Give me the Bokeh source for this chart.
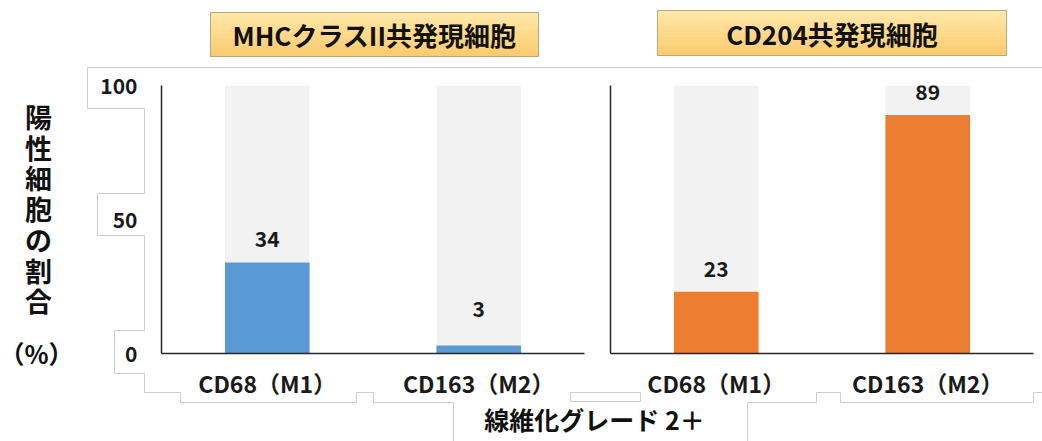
from bokeh.plotting import figure
from bokeh.models import Range1d, FixedTicker, ColumnDataSource
from bokeh.core.properties import value
from bokeh.embed import file_html
from bokeh.resources import INLINE

# ---- data -------------------------------------------------------------
groups = ["MHCクラスII共発現細胞", "CD204共発現細胞"]
categories = ["CD68（M1）", "CD163（M2）"]
mhc_class2_pct = [34, 3]     # % positive, MHC class II co-expressing cells
cd204_pct = [23, 89]         # % positive, CD204 co-expressing cells
y_ticks = [0, 50, 100]
y_title = "陽性細胞の割合"
y_unit = "（%）"
x_title = "線維化グレード 2＋"
group_colors = ["#5B9BD5", "#ED7D31"]

# ---- layout -----------------------------------------------------------
FONT = "Noto Sans CJK JP"
INK = "#111111"
W, H = 1042, 441
FL, FR, FT, FB = 161, 1033, 85, 353      # plot frame edges (px)
Y_MAX = y_ticks[-1]
SLOT_PX = 211.5                          # width of one category slot
GAP = 26 / SLOT_PX                       # gap between the two panels (slots)
BAR_W = 0.4
n_cat = len(categories)
X_END = len(groups) * n_cat + GAP


def dx(px):
    return (px - FL) * X_END / (FR - FL)


def dy(py):
    return (FB - py) * Y_MAX / (FB - FT)


panel_start = [g * (n_cat + GAP) for g in range(len(groups))]
series = [mhc_class2_pct, cd204_pct]

xs, tops, colors, names = [], [], [], []
for g, vals in enumerate(series):
    for i, v in enumerate(vals):
        xs.append(panel_start[g] + i + 0.5)
        tops.append(v)
        colors.append(group_colors[g])
        names.append(categories[i])

LABEL_FLOOR, LABEL_GAP = 8, 8.7
src = ColumnDataSource(dict(
    x=xs, top=tops, color=colors, full=[Y_MAX] * len(xs),
    label=[str(v) for v in tops],
    label_y=[max(v, LABEL_FLOOR) + LABEL_GAP for v in tops],
))

p = figure(width=W, height=H, output_backend="svg", toolbar_location=None,
           x_range=Range1d(0, X_END), y_range=Range1d(0, Y_MAX),
           min_border_left=FL, min_border_right=W - FR,
           min_border_top=FT, min_border_bottom=H - FB)
p.background_fill_color = "white"
p.border_fill_color = "white"
p.outline_line_color = None
p.grid.visible = False

# faint outline of the slide's text cells (drawn above the frame level so
# it can run outside the plotting area)
outline_left = [(1042, 67), (87, 67), (87, 108), (144, 108), (144, 193),
                (97, 193), (97, 235), (144, 235), (144, 330), (114, 330),
                (114, 373), (144, 373), (144, 392), (180, 392), (180, 402),
                (356, 402), (356, 392), (373, 392), (373, 402), (453, 402),
                (453, 441)]
outline_right = [(747, 441), (747, 402), (816, 402), (816, 392), (840, 392),
                 (840, 402), (1033, 402), (1033, 392), (1042, 392)]
outline_box = [(570, 392), (640, 392), (640, 401), (570, 401), (570, 392)]
outlines = [outline_left, outline_right, outline_box]
p.multi_line(xs=[[dx(a) for a, _ in o] for o in outlines],
             ys=[[dy(b) for _, b in o] for o in outlines],
             line_color="#CDCDCD", line_width=1, level="overlay")

# bars: grey 100% backdrop and the coloured share
p.vbar(x="x", top="full", width=BAR_W, source=src,
       fill_color="#F2F2F2", line_color=None)
p.vbar(x="x", top="top", width=BAR_W, source=src,
       fill_color="color", line_color=None)
p.text(x="x", y="label_y", text="label", source=src,
       text_font=value(FONT), text_font_size="21px", text_font_style="bold",
       text_align="center", text_baseline="middle", text_color="#1a1a1a")

# axes
p.yaxis.ticker = FixedTicker(ticks=y_ticks)
p.yaxis.axis_line_color = "#262626"
p.yaxis.axis_line_width = 1.5
p.yaxis.major_tick_line_color = None
p.yaxis.minor_tick_line_color = None
p.yaxis.major_label_standoff = 18
p.yaxis.major_label_text_font = FONT
p.yaxis.major_label_text_font_size = "21px"
p.yaxis.major_label_text_font_style = "bold"
p.yaxis.major_label_text_color = "#1a1a1a"

p.xaxis.ticker = FixedTicker(ticks=xs)
p.xaxis.major_label_overrides = {x: n for x, n in zip(xs, names)}
p.xaxis.axis_line_color = None
p.xaxis.major_tick_line_color = None
p.xaxis.minor_tick_line_color = None
p.xaxis.major_label_standoff = 6
p.xaxis.major_label_text_font = FONT
p.xaxis.major_label_text_font_size = "23px"
p.xaxis.major_label_text_font_style = "bold"
p.xaxis.major_label_text_color = "#1a1a1a"

# panel baselines and the second panel's vertical axis
seg_x0, seg_y0, seg_x1, seg_y1 = [], [], [], []
for g in range(len(groups)):
    x0 = panel_start[g]
    seg_x0.append(x0); seg_y0.append(0); seg_x1.append(x0 + n_cat); seg_y1.append(0)
    if g > 0:
        seg_x0.append(x0); seg_y0.append(0); seg_x1.append(x0); seg_y1.append(Y_MAX)
p.segment(x0=seg_x0, y0=seg_y0, x1=seg_x1, y1=seg_y1,
          line_color="#262626", line_width=1.5, level="overlay")

# panel title boxes with a soft vertical gradient
title_boxes = [(210, 538, 12, 56), (657, 1006, 10, 55)]
top_col = (255, 231, 168)
bot_col = (251, 203, 110)
N_BANDS = 12
bl, br, bt, bb, bc = [], [], [], [], []
for (l, r, t, b) in title_boxes:
    h = (b - t) / N_BANDS
    for k in range(N_BANDS):
        f = k / (N_BANDS - 1)
        c = tuple(int(round(top_col[j] + (bot_col[j] - top_col[j]) * f))
                  for j in range(3))
        bl.append(dx(l)); br.append(dx(r))
        bt.append(dy(t + k * h)); bb.append(dy(t + (k + 1) * h + 0.6))
        bc.append("#%02x%02x%02x" % c)
p.quad(left=bl, right=br, top=bt, bottom=bb, fill_color=bc,
       line_color=None, level="overlay")
p.quad(left=[dx(l) for l, r, t, b in title_boxes],
       right=[dx(r) for l, r, t, b in title_boxes],
       top=[dy(t) for l, r, t, b in title_boxes],
       bottom=[dy(b) for l, r, t, b in title_boxes],
       fill_color=None, line_color="#BDA77C", line_width=1, level="overlay")
p.text(x=[dx((l + r) / 2) for l, r, t, b in title_boxes],
       y=[dy((t + b) / 2) for l, r, t, b in title_boxes],
       text=groups, text_font=value(FONT), text_font_size="26px",
       text_font_style="bold", text_color=INK, text_align="center",
       text_baseline="middle", level="overlay")

# vertical y-axis title, one character per line, and its unit
p.text(x=[dx(38)] * len(y_title),
       y=[dy(116 + i * 30.7) for i in range(len(y_title))],
       text=list(y_title), text_font=value(FONT), text_font_size="27px",
       text_font_style="bold", text_color=INK, text_align="center",
       text_baseline="middle", level="overlay")
p.text(x=[dx(36)], y=[dy(352)], text=[y_unit], text_font=value(FONT),
       text_font_size="25px", text_font_style="bold", text_color=INK,
       text_align="center", text_baseline="middle", level="overlay")

# x-axis title
p.text(x=[dx(594)], y=[dy(418)], text=[x_title], text_font=value(FONT),
       text_font_size="25px", text_font_style="bold", text_color=INK,
       text_align="center", text_baseline="middle", level="overlay")

open("out.html", "w").write(file_html(p, INLINE))
